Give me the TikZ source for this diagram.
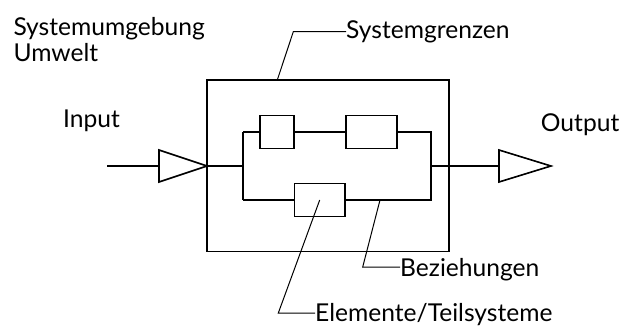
\documentclass[tikz,border=0pt]{standalone}
\usepackage{fontspec}
\setmainfont{Lato}
\begin{document}
\begin{tikzpicture}[x=1pt,y=-1pt,
  wire/.style={line width=1.6pt,line join=miter},
  leader/.style={line width=1pt},
  elem/.style={draw,line width=1.6pt,inner sep=0pt,minimum height=33pt},
  lbl/.style={anchor=base west,inner sep=0pt,font=\fontsize{24.6}{29}\selectfont}]
\useasboundingbox (0,0) rectangle (620,327);

% system boundary
\node[elem,minimum width=242pt,minimum height=171.5pt] (sys) at (328,165.75) {};

% elements
\node[elem,minimum width=34pt] (ea) at (277,132) {};
\node[elem,minimum width=51pt] (eb) at (371.2,132) {};
\node[elem,minimum width=50.7pt] (ec) at (319.7,200) {};

% junction points of the parallel branches
\coordinate (sl) at (243,166);
\coordinate (sr) at (430.7,166);
\coordinate (tl) at (243,132);
\coordinate (tr) at (430.7,132);
\coordinate (bl) at (243,200);
\coordinate (br) at (430.7,200);

% input / output arrows
\coordinate (inS) at (107,166);
\coordinate (inA) at (159,166);
\coordinate (inT) at (207,166);
\coordinate (outA) at (499,166);
\draw[wire] (inS) -- (inA);
\draw[wire] (159,150) -- (inT) -- (159,182) -- cycle;
\draw[wire] (499,150) -- (551,166) -- (499,182) -- cycle;

% internal structure
\draw[wire] (inT) -- (sl);
\draw[wire] (tl) -- (bl);
\draw[wire] (tl) -- (ea.west);
\draw[wire] (ea.east) -- (eb.west);
\draw[wire] (eb.east) -- (tr) -- (br) -- (ec.east);
\draw[wire] (ec.west) -- (bl);
\draw[wire] (sr) -- (outA);

% labels
\node[lbl] (umg) at (13.3,35) {Systemumgebung};
\node[lbl] (umw) at (13.3,61.7) {Umwelt};
\node[lbl] (inp) at (63,127) {Input};
\node[lbl] (outp) at (540.7,131.7) {Output};
\node[lbl] (grenz) at (346,38.3) {Systemgrenzen};
\node[lbl] (bez) at (400,276) {Beziehungen};
\node[lbl] (elt) at (315,321.5) {Elemente/Teilsysteme};

% leader lines
\draw[leader] (277.3,80) -- (293.3,31.7) -- (346,31.7);
\draw[leader] (380,200) -- (362.7,267) -- (400,267);
\draw[leader] (ec.center) -- (278.3,313) -- (315,313);
\end{tikzpicture}
\end{document}
